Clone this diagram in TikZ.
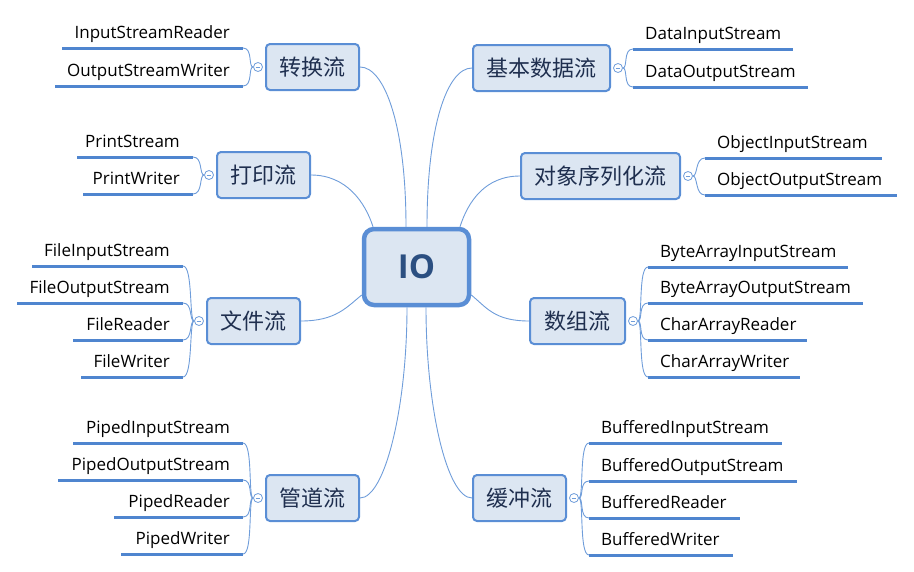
\documentclass[tikz,border=0pt]{standalone}
\usepackage{fontspec}
\setmainfont{Open Sans}
\newfontfamily\cjk{Noto Sans CJK SC}
\usetikzlibrary{calc,backgrounds}
\definecolor{bfill}{HTML}{DCE6F2}
\definecolor{bdraw}{HTML}{5A8ED5}
\definecolor{connc}{HTML}{6F9DDA}
\definecolor{llinec}{HTML}{4F85CF}
\definecolor{btext}{HTML}{1F2F4F}
\definecolor{iotext}{HTML}{2B4F81}
\tikzset{
  branch/.style={draw=bdraw, line width=2pt, fill=bfill, rounded corners=4pt,
    font=\cjk\fontsize{22}{22}\selectfont, text=btext, inner sep=0pt,
    minimum height=46pt},
  root/.style={draw=bdraw, line width=4.5pt, fill=bfill, rounded corners=10pt,
    font=\fontsize{33}{33}\selectfont\bfseries, text=iotext, inner sep=0pt,
    minimum width=105pt, minimum height=76pt},
  conn/.style={draw=connc, line width=0.9pt},
  knob/.style={circle, draw=connc, fill=white, line width=0.8pt, minimum size=9pt,
    inner sep=0pt, path picture={\draw[connc, line width=0.7pt]
      ([xshift=-2.3pt]path picture bounding box.center) --
      ([xshift=2.3pt]path picture bounding box.center);}},
  leaf/.style={font=\fontsize{17}{17}\selectfont, text=black, inner sep=0pt},
  uline/.style={draw=llinec, line width=3pt},
}
\newcommand\mkleafL[5]{%
  \coordinate (#1a) at (#2,#4); \coordinate (#1k) at (#3,#4);
  \draw[uline] (#1a) -- (#1k);
  \node[leaf, anchor=base east] (#1) at ($(#1k)+(-13,-9.5)$) {#5};}
\newcommand\mkleafR[5]{%
  \coordinate (#1k) at (#2,#4); \coordinate (#1a) at (#3,#4);
  \draw[uline] (#1k) -- (#1a);
  \node[leaf, anchor=base west] (#1) at ($(#1k)+(12,-9.5)$) {#5};}
\begin{document}
\begin{tikzpicture}[x=1pt,y=-1pt]
\useasboundingbox (0,0) rectangle (914,571);

% root
\node[root] (io) at (416.5,267) {IO};

% branches
\node[branch, minimum width=93pt]  (bA) at (312.5,67)  {转换流};
\node[branch, minimum width=93pt]  (bB) at (263.5,175) {打印流};
\node[branch, minimum width=93pt]  (bC) at (253.5,321) {文件流};
\node[branch, minimum width=93pt]  (bD) at (312.5,498) {管道流};
\node[branch, minimum width=137pt] (bE) at (541.5,68)  {基本数据流};
\node[branch, minimum width=159pt] (bF) at (600.5,176) {对象序列化流};
\node[branch, minimum width=95pt]  (bG) at (577.5,321) {数组流};
\node[branch, minimum width=93pt]  (bH) at (519.5,498) {缓冲流};

% knobs
\node[knob] (kA) at ([xshift=-7pt]bA.west) {};
\node[knob] (kB) at ([xshift=-7pt]bB.west) {};
\node[knob] (kC) at ([xshift=-7pt]bC.west) {};
\node[knob] (kD) at ([xshift=-7pt]bD.west) {};
\node[knob] (kE) at ([xshift=7pt]bE.east) {};
\node[knob] (kF) at ([xshift=7pt]bF.east) {};
\node[knob] (kG) at ([xshift=7pt]bG.east) {};
\node[knob] (kH) at ([xshift=7pt]bH.east) {};

% leaves
\mkleafL{a1}{62}{243}{48}{InputStreamReader}
\mkleafL{a2}{55}{243}{86}{OutputStreamWriter}
\mkleafL{b1}{77}{193}{157}{PrintStream}
\mkleafL{b2}{83}{193}{194}{PrintWriter}
\mkleafL{c1}{32}{183}{266}{FileInputStream}
\mkleafL{c2}{17}{183}{303}{FileOutputStream}
\mkleafL{c3}{73}{183}{340}{FileReader}
\mkleafL{c4}{81}{183}{377}{FileWriter}
\mkleafL{d1}{73}{243}{443}{PipedInputStream}
\mkleafL{d2}{58}{243}{480}{PipedOutputStream}
\mkleafL{d3}{114}{243}{517}{PipedReader}
\mkleafL{d4}{121}{243}{554}{PipedWriter}
\mkleafR{e1}{633}{793}{49}{DataInputStream}
\mkleafR{e2}{633}{808}{87}{DataOutputStream}
\mkleafR{f1}{705}{882}{158}{ObjectInputStream}
\mkleafR{f2}{705}{897}{195}{ObjectOutputStream}
\mkleafR{g1}{648}{848}{267}{ByteArrayInputStream}
\mkleafR{g2}{648}{863}{303}{ByteArrayOutputStream}
\mkleafR{g3}{648}{807}{340}{CharArrayReader}
\mkleafR{g4}{648}{800}{377}{CharArrayWriter}
\mkleafR{h1}{589}{782}{443}{BufferedInputStream}
\mkleafR{h2}{589}{797}{481}{BufferedOutputStream}
\mkleafR{h3}{589}{740}{518}{BufferedReader}
\mkleafR{h4}{589}{733}{555}{BufferedWriter}

\begin{scope}[on background layer]
  % root to branches
  \draw[conn] (bA.east) .. controls +(25,0) and +(0,-100) .. ([xshift=-10.5pt]io.north);
  \draw[conn] (bE.west) .. controls +(-25,0) and +(0,-100) .. ([xshift=10.5pt]io.north);
  \draw[conn] (bB.east) .. controls +(35,0) and +(-8,-25) .. ([xshift=-43.5pt]io.north);
  \draw[conn] (bF.west) .. controls +(-35,0) and +(8,-25) .. ([xshift=43.5pt]io.north);
  \draw[conn] (bC.east) .. controls +(35,0) and +(-15,12) .. ([yshift=-28pt]io.west);
  \draw[conn] (bG.west) .. controls +(-35,0) and +(15,12) .. ([yshift=-28pt]io.east);
  \draw[conn] (bD.east) .. controls +(25,0) and +(0,100) .. ([xshift=-9.5pt]io.south);
  \draw[conn] (bH.west) .. controls +(-25,0) and +(0,100) .. ([xshift=9.5pt]io.south);
  % knobs to leaves
  \foreach \kn/\lv in {kA/a1,kA/a2,kB/b1,kB/b2,kC/c1,kC/c2,kC/c3,kC/c4,kD/d1,kD/d2,kD/d3,kD/d4}
    \draw[conn] (\kn.west) .. controls +(-5,0) and +(10,0) .. (\lv k);
  \foreach \kn/\lv in {kE/e1,kE/e2,kF/f1,kF/f2,kG/g1,kG/g2,kG/g3,kG/g4,kH/h1,kH/h2,kH/h3,kH/h4}
    \draw[conn] (\kn.east) .. controls +(5,0) and +(-10,0) .. (\lv k);
\end{scope}
\end{tikzpicture}
\end{document}
